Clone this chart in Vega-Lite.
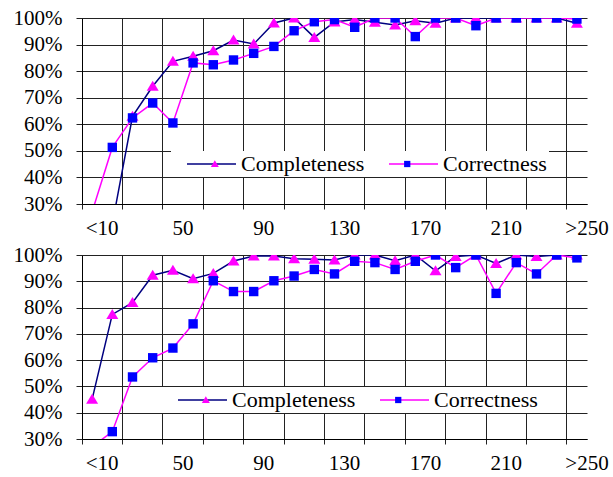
{
  "$schema": "https://vega.github.io/schema/vega-lite/v6.json",
  "padding": {"left": 13, "top": 7, "right": 5, "bottom": 5},
  "spacing": 6,
  "datasets": {
    "top": [
      {"size": "<10", "series": "Completeness", "value": 5},
      {"size": "20", "series": "Completeness", "value": 22.5},
      {"size": "30", "series": "Completeness", "value": 63},
      {"size": "40", "series": "Completeness", "value": 74.3},
      {"size": "50", "series": "Completeness", "value": 83.7},
      {"size": "60", "series": "Completeness", "value": 85.6},
      {"size": "70", "series": "Completeness", "value": 87.7},
      {"size": "80", "series": "Completeness", "value": 91.7},
      {"size": "90", "series": "Completeness", "value": 90.2},
      {"size": "100", "series": "Completeness", "value": 98.1},
      {"size": "110", "series": "Completeness", "value": 100},
      {"size": "120", "series": "Completeness", "value": 92.7},
      {"size": "130", "series": "Completeness", "value": 98.5},
      {"size": "140", "series": "Completeness", "value": 99.4},
      {"size": "150", "series": "Completeness", "value": 98.4},
      {"size": "160", "series": "Completeness", "value": 97.4},
      {"size": "170", "series": "Completeness", "value": 99},
      {"size": "180", "series": "Completeness", "value": 98},
      {"size": "190", "series": "Completeness", "value": 100},
      {"size": "200", "series": "Completeness", "value": 100},
      {"size": "210", "series": "Completeness", "value": 100},
      {"size": "220", "series": "Completeness", "value": 100},
      {"size": "230", "series": "Completeness", "value": 100},
      {"size": "240", "series": "Completeness", "value": 100},
      {"size": ">250", "series": "Completeness", "value": 98},
      {"size": "<10", "series": "Correctness", "value": 27},
      {"size": "20", "series": "Correctness", "value": 51.3},
      {"size": "30", "series": "Correctness", "value": 62.4},
      {"size": "40", "series": "Correctness", "value": 68},
      {"size": "50", "series": "Correctness", "value": 60.5},
      {"size": "60", "series": "Correctness", "value": 83.1},
      {"size": "70", "series": "Correctness", "value": 82.4},
      {"size": "80", "series": "Correctness", "value": 84.2},
      {"size": "90", "series": "Correctness", "value": 86.7},
      {"size": "100", "series": "Correctness", "value": 89.3},
      {"size": "110", "series": "Correctness", "value": 95.2},
      {"size": "120", "series": "Correctness", "value": 98.6},
      {"size": "130", "series": "Correctness", "value": 99.4},
      {"size": "140", "series": "Correctness", "value": 96.5},
      {"size": "150", "series": "Correctness", "value": 100},
      {"size": "160", "series": "Correctness", "value": 100},
      {"size": "170", "series": "Correctness", "value": 93},
      {"size": "180", "series": "Correctness", "value": 100},
      {"size": "190", "series": "Correctness", "value": 100},
      {"size": "200", "series": "Correctness", "value": 97.1},
      {"size": "210", "series": "Correctness", "value": 100},
      {"size": "220", "series": "Correctness", "value": 100},
      {"size": "230", "series": "Correctness", "value": 100},
      {"size": "240", "series": "Correctness", "value": 100},
      {"size": ">250", "series": "Correctness", "value": 99.6}
    ],
    "bottom": [
      {"size": "<10", "series": "Completeness", "value": 45.1},
      {"size": "20", "series": "Completeness", "value": 77.4},
      {"size": "30", "series": "Completeness", "value": 81.9},
      {"size": "40", "series": "Completeness", "value": 92.3},
      {"size": "50", "series": "Completeness", "value": 94.2},
      {"size": "60", "series": "Completeness", "value": 91},
      {"size": "70", "series": "Completeness", "value": 93},
      {"size": "80", "series": "Completeness", "value": 97.7},
      {"size": "90", "series": "Completeness", "value": 99.6},
      {"size": "100", "series": "Completeness", "value": 99.6},
      {"size": "110", "series": "Completeness", "value": 98.6},
      {"size": "120", "series": "Completeness", "value": 98.4},
      {"size": "130", "series": "Completeness", "value": 98.1},
      {"size": "140", "series": "Completeness", "value": 100},
      {"size": "150", "series": "Completeness", "value": 100},
      {"size": "160", "series": "Completeness", "value": 97.8},
      {"size": "170", "series": "Completeness", "value": 100},
      {"size": "180", "series": "Completeness", "value": 94},
      {"size": "190", "series": "Completeness", "value": 99.4},
      {"size": "200", "series": "Completeness", "value": 100},
      {"size": "210", "series": "Completeness", "value": 96.8},
      {"size": "220", "series": "Completeness", "value": 100},
      {"size": "230", "series": "Completeness", "value": 99.4},
      {"size": "240", "series": "Completeness", "value": 100},
      {"size": ">250", "series": "Completeness", "value": 100},
      {"size": "<10", "series": "Correctness", "value": 27},
      {"size": "20", "series": "Correctness", "value": 32.8},
      {"size": "30", "series": "Correctness", "value": 53.6},
      {"size": "40", "series": "Correctness", "value": 60.9},
      {"size": "50", "series": "Correctness", "value": 64.6},
      {"size": "60", "series": "Correctness", "value": 73.8},
      {"size": "70", "series": "Correctness", "value": 90.2},
      {"size": "80", "series": "Correctness", "value": 86.1},
      {"size": "90", "series": "Correctness", "value": 86.1},
      {"size": "100", "series": "Correctness", "value": 90.2},
      {"size": "110", "series": "Correctness", "value": 92},
      {"size": "120", "series": "Correctness", "value": 94.5},
      {"size": "130", "series": "Correctness", "value": 92.8},
      {"size": "140", "series": "Correctness", "value": 97.6},
      {"size": "150", "series": "Correctness", "value": 97.1},
      {"size": "160", "series": "Correctness", "value": 94.5},
      {"size": "170", "series": "Correctness", "value": 97.6},
      {"size": "180", "series": "Correctness", "value": 100},
      {"size": "190", "series": "Correctness", "value": 95.2},
      {"size": "200", "series": "Correctness", "value": 100},
      {"size": "210", "series": "Correctness", "value": 85.4},
      {"size": "220", "series": "Correctness", "value": 97.1},
      {"size": "230", "series": "Correctness", "value": 92.8},
      {"size": "240", "series": "Correctness", "value": 100},
      {"size": ">250", "series": "Correctness", "value": 98.9}
    ]
  },
  "resolve": {
    "scale": {"color": "independent", "fill": "independent", "shape": "independent"},
    "legend": {"color": "independent", "fill": "independent", "shape": "independent"}
  },
  "config": {
    "view": {"stroke": null},
    "font": "Liberation Serif",
    "axis": {
      "domainColor": "#000000",
      "domainWidth": 1,
      "gridColor": "#222222",
      "gridWidth": 1,
      "gridOpacity": 1,
      "tickColor": "#222222",
      "tickWidth": 1,
      "labelColor": "#000000",
      "labelFont": "Liberation Serif",
      "labelFontSize": 21,
      "title": null
    },
    "legend": {
      "orient": "none",
      "direction": "horizontal",
      "padding": 2,
      "titleOrient": "left",
      "titleFontSize": 1,
      "titlePadding": 27.5,
      "symbolSize": 400,
      "labelOffset": 18.5,
      "columnPadding": 21,
      "labelFont": "Liberation Serif",
      "labelFontSize": 22,
      "labelColor": "#000000",
      "symbolOpacity": 1
    }
  },
  "vconcat": [
    {
      "width": 505,
      "height": 186,
      "data": {"name": "top"},
      "encoding": {
        "x": {
          "field": "size", "type": "nominal", "sort": null,
          "scale": {"type": "band", "paddingInner": 0, "paddingOuter": 0,
            "domain": ["<10","20","30","40","50","60","70","80","90","100","110","120","130","140","150","160","170","180","190","200","210","220","230","240",">250"]},
          "axis": {
            "values": ["<10","30","50","70","90","110","130","150","170","190","210","230",">250"],
            "bandPosition": 0, "labelOffset": 10.1, "labelAngle": 0, "labelOverlap": false,
            "labelExpr": "indexof(['<10','50','90','130','170','210','>250'], datum.value) >= 0 ? datum.value : ''",
            "grid": true, "tickSize": 5, "labelPadding": 8
          }
        },
        "y": {
          "field": "value", "type": "quantitative",
          "scale": {"domain": [30, 100], "nice": false, "zero": false},
          "axis": {"values": [30,40,50,60,70,80,90,100], "labelExpr": "datum.value + '%'", "grid": true, "tickSize": 6, "labelPadding": 14}
        }
      },
      "layer": [
        {
          "mark": {"type": "line", "clip": true, "strokeWidth": 1.5},
          "encoding": {
            "color": {"field": "series", "type": "nominal",
              "scale": {"range": ["#000080","#FF00FF"]},
              "legend": {"title": " ", "legendX": 89, "legendY": 133, "symbolType": "M-2.45,0H2.45", "symbolStrokeWidth": 1.5, "fillColor": "white", "zindex": 1}}
          }
        },
        {
          "mark": {"type": "point", "filled": true, "clip": true, "size": 400, "opacity": 1},
          "encoding": {
            "fill": {"field": "series", "type": "nominal",
              "scale": {"domain": ["Completeness","Correctness"], "range": ["#FF00FF","#0000FF"]},
              "legend": {"title": " ", "legendX": 92.33, "legendY": 133, "labelExpr": "''", "columnPadding": 144.4, "symbolStrokeWidth": 0, "symbolSize": 178, "labelOffset": 25.17, "zindex": 2}},
            "shape": {"field": "series", "type": "nominal",
              "scale": {"domain": ["Completeness","Correctness"], "range": ["M0,-0.55L0.6,0.45L-0.6,0.45Z","M-0.47,-0.47H0.47V0.47H-0.47Z"]},
              "legend": {"title": " ", "legendX": 92.33, "legendY": 133, "labelExpr": "''", "columnPadding": 144.4, "symbolStrokeWidth": 0, "symbolSize": 178, "labelOffset": 25.17, "zindex": 2}}
          }
        }
      ]
    },
    {
      "width": 505,
      "height": 184,
      "data": {"name": "bottom"},
      "encoding": {
        "x": {
          "field": "size", "type": "nominal", "sort": null,
          "scale": {"type": "band", "paddingInner": 0, "paddingOuter": 0,
            "domain": ["<10","20","30","40","50","60","70","80","90","100","110","120","130","140","150","160","170","180","190","200","210","220","230","240",">250"]},
          "axis": {
            "values": ["<10","30","50","70","90","110","130","150","170","190","210","230",">250"],
            "bandPosition": 0, "labelOffset": 10.1, "labelAngle": 0, "labelOverlap": false,
            "labelExpr": "indexof(['<10','50','90','130','170','210','>250'], datum.value) >= 0 ? datum.value : ''",
            "grid": true, "tickSize": 5, "labelPadding": 8
          }
        },
        "y": {
          "field": "value", "type": "quantitative",
          "scale": {"domain": [30, 100], "nice": false, "zero": false},
          "axis": {"values": [30,40,50,60,70,80,90,100], "labelExpr": "datum.value + '%'", "grid": true, "tickSize": 6, "labelPadding": 14}
        }
      },
      "layer": [
        {
          "mark": {"type": "line", "clip": true, "strokeWidth": 1.5},
          "encoding": {
            "color": {"field": "series", "type": "nominal",
              "scale": {"range": ["#000080","#FF00FF"]},
              "legend": {"title": " ", "legendX": 80, "legendY": 132, "symbolType": "M-2.45,0H2.45", "symbolStrokeWidth": 1.5, "fillColor": "white", "zindex": 1}}
          }
        },
        {
          "mark": {"type": "point", "filled": true, "clip": true, "size": 400, "opacity": 1},
          "encoding": {
            "fill": {"field": "series", "type": "nominal",
              "scale": {"domain": ["Completeness","Correctness"], "range": ["#FF00FF","#0000FF"]},
              "legend": {"title": " ", "legendX": 83.33, "legendY": 132, "labelExpr": "''", "columnPadding": 144.4, "symbolStrokeWidth": 0, "symbolSize": 178, "labelOffset": 25.17, "zindex": 2}},
            "shape": {"field": "series", "type": "nominal",
              "scale": {"domain": ["Completeness","Correctness"], "range": ["M0,-0.55L0.6,0.45L-0.6,0.45Z","M-0.47,-0.47H0.47V0.47H-0.47Z"]},
              "legend": {"title": " ", "legendX": 83.33, "legendY": 132, "labelExpr": "''", "columnPadding": 144.4, "symbolStrokeWidth": 0, "symbolSize": 178, "labelOffset": 25.17, "zindex": 2}}
          }
        }
      ]
    }
  ]
}
